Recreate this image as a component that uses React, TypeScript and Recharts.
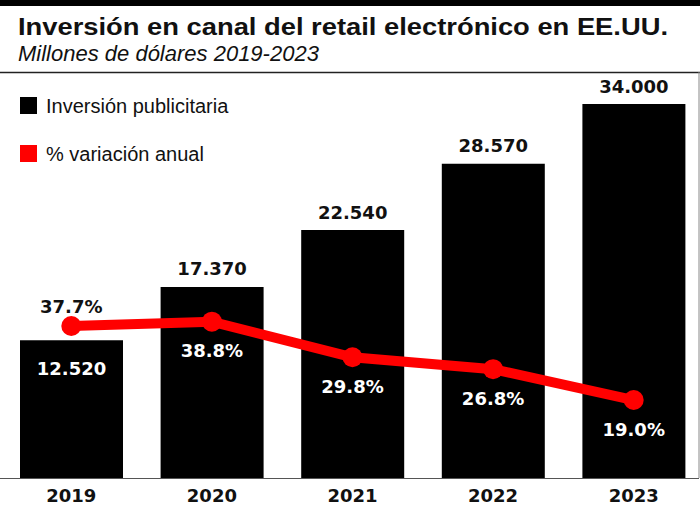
import React from 'react';
import { ComposedChart, Bar, Line, XAxis, YAxis } from 'recharts';

const years = ['2019', '2020', '2021', '2022', '2023'];
const inversion = [12520, 17370, 22540, 28570, 34000];
const variacion = [37.7, 38.8, 29.8, 26.8, 19.0];

const data = years.map((year, i) => ({ year, inversion: inversion[i], variacion: variacion[i] }));

const NUM_FONT = '"DejaVu Sans", Verdana, sans-serif';
const TEXT_FONT = '"Liberation Sans", Arial, sans-serif';

const fmtMiles = (v: number) => String(v).replace(/\B(?=(\d{3})+(?!\d))/g, '.');

const BarLabel = (props: any) => {
  const { x, y, width, value, index } = props;
  const inside = index === 0; // la primera barra lleva el valor dentro
  return (
    <text
      x={x + width / 2}
      y={inside ? y + 28 : y - 18}
      textAnchor="middle"
      dominantBaseline="central"
      fill={inside ? '#fff' : '#111'}
      fontFamily={NUM_FONT}
      fontWeight="bold"
      fontSize={18}
    >
      {fmtMiles(value)}
    </text>
  );
};

const LineLabel = (props: any) => {
  const { x, y, value, index } = props;
  const above = index === 0;
  return (
    <text
      x={x}
      y={above ? y - 20 : y + 29}
      textAnchor="middle"
      dominantBaseline="central"
      fill={above ? '#111' : '#fff'}
      fontFamily={NUM_FONT}
      fontWeight="bold"
      fontSize={18}
    >
      {value.toFixed(1)}%
    </text>
  );
};

const YearTick = (props: any) => {
  const { x, y, payload } = props;
  return (
    <text x={x} y={y} dy={16} textAnchor="middle" fill="#111" fontFamily={NUM_FONT} fontWeight="bold" fontSize={18}>
      {payload.value}
    </text>
  );
};

export default function App() {
  return (
    <div style={{ position: 'relative', width: 700, height: 509, overflow: 'hidden', background: '#fff' }}>
      <style>{'body{margin:0}'}</style>
      <div style={{ position: 'absolute', left: 0, top: 0 }}>
        <ComposedChart width={704} height={509} data={data} margin={{ top: 104, right: 0, bottom: 0, left: 1 }}>
          <XAxis dataKey="year" height={31} axisLine={false} tickLine={false} tick={<YearTick />} interval={0} />
          <YAxis yAxisId="inv" hide domain={[0, 34000]} />
          <YAxis yAxisId="pct" hide orientation="right" domain={[-0.7, 93.8]} />
          <Bar yAxisId="inv" dataKey="inversion" fill="#000" barSize={103} isAnimationActive={false} label={<BarLabel />} />
          <Line
            yAxisId="pct"
            dataKey="variacion"
            stroke="#ff0000"
            strokeWidth={10}
            dot={{ r: 10, fill: '#ff0000', stroke: 'none' }}
            activeDot={false}
            isAnimationActive={false}
            label={<LineLabel />}
          />
        </ComposedChart>
      </div>
      <svg width={700} height={509} style={{ position: 'absolute', left: 0, top: 0, pointerEvents: 'none' }}>
        <rect x={0} y={0} width={700} height={6} fill="#000" />
        <text x={18} y={35} fontFamily={TEXT_FONT} fontWeight="bold" fontSize={23} fill="#111" textLength={650} lengthAdjust="spacingAndGlyphs">
          Inversión en canal del retail electrónico en EE.UU.
        </text>
        <text x={18} y={61} fontFamily={TEXT_FONT} fontStyle="italic" fontSize={22} fill="#111">
          Millones de dólares 2019-2023
        </text>
        <line x1={0} y1={72.5} x2={700} y2={72.5} stroke="#222" strokeWidth={1.5} />
        <line x1={699} y1={72} x2={699} y2={478} stroke="#888" strokeWidth={1} />
        <line x1={0} y1={478.5} x2={699} y2={478.5} stroke="#555" strokeWidth={1} />
        <rect x={20} y={97} width={17} height={17} fill="#000" />
        <text x={46} y={113} fontFamily={TEXT_FONT} fontSize={20} fill="#111">Inversión publicitaria</text>
        <rect x={20} y={145} width={17} height={17} fill="#ff0000" />
        <text x={46} y={161} fontFamily={TEXT_FONT} fontSize={20} fill="#111">% variación anual</text>
      </svg>
    </div>
  );
}
